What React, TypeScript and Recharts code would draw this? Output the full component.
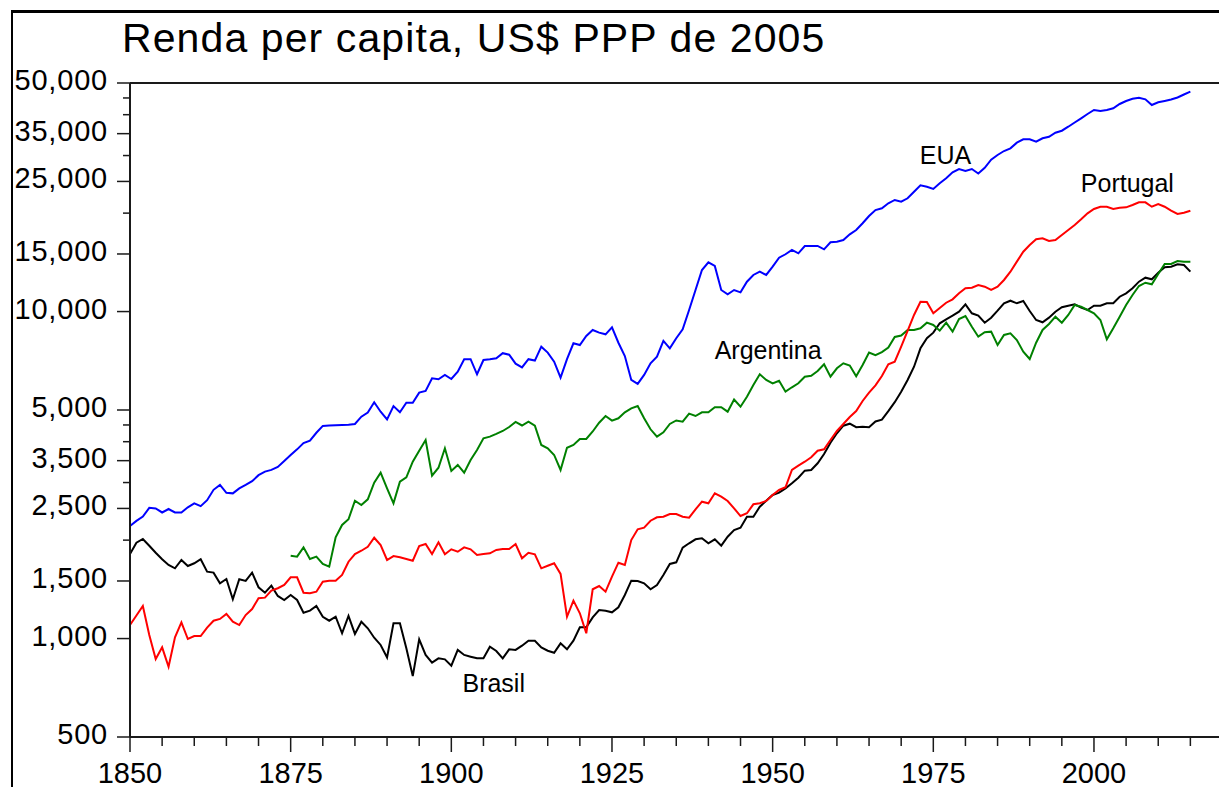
import React from 'react';
import { LineChart, Line, XAxis, YAxis, ReferenceLine, ReferenceDot } from 'recharts';

const START_YEAR = 1850;
const ARGENTINA_START = 1875;

const usa = [
  2210, 2290, 2360, 2510, 2500, 2430, 2490, 2430, 2430, 2520,
  2590, 2540, 2650, 2850, 2950, 2790, 2780, 2880, 2950, 3030,
  3160, 3240, 3280, 3350, 3490, 3640, 3790, 3960, 4030, 4260,
  4470, 4480, 4490, 4500, 4510, 4530, 4770, 4910, 5280, 4940,
  4680, 5140, 4920, 5260, 5260, 5650, 5720, 6250, 6210, 6400,
  6220, 6550, 7150, 7150, 6430, 7110, 7150, 7200, 7460, 7380,
  6930, 6750, 7150, 7080, 7810, 7490, 7030, 6280, 7150, 8000,
  7900, 8420, 8780, 8620, 8520, 8950, 8030, 7310, 6180, 6010,
  6400, 6950, 7280, 8130, 7720, 8290, 8830, 10110, 11640, 13400,
  14150, 13790, 11640, 11290, 11640, 11450, 12340, 12940, 13240, 12940,
  13720, 14610, 14970, 15430, 15070, 15870, 15870, 15870, 15500, 16290,
  16350, 16550, 17230, 17760, 18620, 19600, 20440, 20690, 21430, 21940,
  21670, 22200, 23260, 24330, 24090, 23710, 24680, 25560, 26660, 27290,
  26910, 27290, 26440, 27520, 29130, 30110, 30970, 31570, 32840, 33630,
  33630, 33070, 33870, 34250, 35230, 35730, 36750, 37860, 38990, 40190,
  41340, 41050, 41340, 41840, 43130, 44050, 44770, 45080, 44580, 42820,
  43640, 44050, 44510, 45150, 46110, 47030,
];

const portugal = [
  1100, 1176, 1258, 1025, 866, 940, 820, 1009, 1121, 997,
  1018, 1018, 1080, 1134, 1148, 1189, 1126, 1100, 1180, 1231,
  1328, 1334, 1401, 1425, 1458, 1539, 1539, 1381, 1375, 1391,
  1492, 1503, 1503, 1565, 1718, 1814, 1856, 1909, 2034, 1932,
  1739, 1788, 1772, 1751, 1730, 1919, 1946, 1814, 1970, 1810,
  1875, 1843, 1901, 1875, 1802, 1814, 1823, 1866, 1879, 1879,
  1946, 1760, 1830, 1810, 1640, 1670, 1699, 1576, 1166, 1306,
  1195, 1038, 1415, 1448, 1391, 1546, 1706, 1679, 2001, 2159,
  2183, 2293, 2349, 2358, 2404, 2404, 2358, 2342, 2485, 2621,
  2592, 2782, 2716, 2635, 2502, 2370, 2416, 2574, 2592, 2635,
  2749, 2847, 2902, 3277, 3378, 3474, 3584, 3754, 3792, 4049,
  4313, 4531, 4760, 4965, 5327, 5648, 5950, 6352, 6898, 7025,
  7809, 8722, 9761, 10719, 10696, 9878, 10254, 10643, 10901, 11373,
  11780, 11830, 12057, 11914, 11640, 11914, 12491, 13243, 14211, 15243,
  15978, 16632, 16750, 16435, 16551, 17144, 17759, 18395, 19148, 19974,
  20589, 20925, 20925, 20589, 20777, 20835, 21175, 21582, 21582, 20925,
  21325, 20925, 20344, 19877, 20059, 20344,
];

const brasil = [
  1814, 1964, 2016, 1923, 1830, 1748, 1679, 1640, 1739, 1667,
  1699, 1748, 1602, 1591, 1476, 1521, 1319, 1518, 1500, 1591,
  1435, 1381, 1451, 1350, 1312, 1359, 1312, 1200, 1217, 1258,
  1166, 1134, 1166, 1038, 1172, 1033, 1126, 1075, 1006, 956,
  876, 1113, 1113, 934, 768, 995, 891, 844, 870, 864,
  826, 923, 891, 880, 870, 870, 944, 916, 870, 927,
  923, 951, 985, 985, 940, 918, 905, 967, 927, 985,
  1082, 1082, 1161, 1223, 1217, 1203, 1246, 1359, 1503, 1500,
  1476, 1415, 1458, 1565, 1691, 1711, 1896, 1956, 2012, 2026,
  1956, 2012, 1923, 2049, 2148, 2183, 2358, 2358, 2531, 2640,
  2749, 2793, 2880, 2985, 3104, 3261, 3277, 3435, 3669, 3972,
  4244, 4477, 4541, 4430, 4446, 4430, 4611, 4670, 4958, 5283,
  5688, 6177, 6781, 7720, 8285, 8618, 9208, 9471, 9714, 9990,
  10525, 9878, 9714, 9247, 9578, 10061, 10599, 10795, 10599, 10772,
  10040, 9424, 9273, 9578, 9990, 10305, 10421, 10525, 10276, 10111,
  10421, 10421, 10599, 10599, 11104, 11373, 11780, 12343, 12694, 12552,
  13150, 13659, 13719, 13951, 13883, 13243,
];

const argentina = [
  1792, 1780, 1901, 1751, 1780,
  1691, 1659, 2040, 2225, 2316, 2640, 2561, 2666, 2997, 3215,
  2880, 2592, 3018, 3113, 3474, 3754, 4049, 3148, 3330, 3818,
  3254, 3395, 3215, 3516, 3773, 4098, 4144, 4224, 4313, 4436,
  4595, 4483, 4605, 4477, 3908, 3818, 3643, 3277, 3834, 3908,
  4078, 4078, 4298, 4572, 4793, 4638, 4717, 4920, 5059, 5143,
  4717, 4365, 4144, 4273, 4531, 4644, 4605, 4872, 4793, 4920,
  4920, 5096, 5096, 4941, 5384, 5118, 5491, 5962, 6429, 6177,
  6034, 6145, 5688, 5867, 6034, 6321, 6366, 6580, 6898, 6321,
  6706, 6947, 6840, 6343, 6864, 7497, 7351, 7513, 7765, 8361,
  8450, 8784, 8784, 8889, 9247, 9098, 8741, 9247, 8679, 9491,
  9692, 8990, 8379, 8643, 8679, 7903, 8480, 8582, 8186, 7540,
  7160, 8031, 8784, 9163, 9645, 9247, 9761, 10473, 10349, 10111,
  9878, 9424, 8226, 8889, 9645, 10473, 11238, 11972, 12253, 12116,
  13030, 13980, 13980, 14279, 14211, 14211,
];

const xTicks = [
  1850, 1855, 1860, 1865, 1870, 1875, 1880, 1885, 1890, 1895, 1900, 1905,
  1910, 1915, 1920, 1925, 1930, 1935, 1940, 1945, 1950, 1955, 1960, 1965,
  1970, 1975, 1980, 1985, 1990, 1995, 2000, 2005, 2010, 2015,
];
const xMajor = [1850, 1875, 1900, 1925, 1950, 1975, 2000];

const yTicks = [
  500, 1000, 1500, 2000, 2500, 3000, 3500, 4000, 4500, 5000,
  10000, 15000, 20000, 25000, 30000, 35000, 40000, 45000, 50000,
];
const yMajor = [500, 1000, 1500, 2500, 3500, 5000, 10000, 15000, 25000, 35000, 50000];

const data = usa.map((v, i) => {
  const year = START_YEAR + i;
  const ai = year - ARGENTINA_START;
  return {
    year,
    usa: v,
    portugal: portugal[i],
    brasil: brasil[i],
    argentina: ai >= 0 ? argentina[ai] : null,
  };
});

const FONT = '"Liberation Sans", Arial, Helvetica, sans-serif';
const AXIS = '#1a1a1a';

const YTick = (props: any) => {
  const { x, y, payload } = props;
  const v = payload.value;
  const major = yMajor.includes(v);
  return (
    <g>
      <line x1={x - (major ? 13 : 7)} x2={x} y1={y} y2={y} stroke={AXIS} strokeWidth={1.5} />
      {major && (
        <text x={x - 22} y={y + 7} textAnchor="end" fontSize={29} fontFamily={FONT} fill="#000" letterSpacing={0.8}>
          {v.toLocaleString('en-US')}
        </text>
      )}
    </g>
  );
};

const XTick = (props: any) => {
  const { x, y, payload } = props;
  const v = payload.value;
  const major = xMajor.includes(v);
  return (
    <g>
      <line x1={x} x2={x} y1={y} y2={y + (major ? 15 : 9)} stroke={AXIS} strokeWidth={1.5} />
      {major && (
        <text x={x} y={y + 46} textAnchor="middle" fontSize={29} fontFamily={FONT} fill="#000">
          {String(v)}
        </text>
      )}
    </g>
  );
};

const labelStyle = (value: string) => ({
  value,
  position: 'center' as const,
  fontSize: 25,
  fontFamily: FONT,
  fill: '#000',
});

export default function App() {
  return (
    <div
      style={{
        position: 'fixed',
        left: 0,
        top: 0,
        width: 1219,
        height: 787,
        overflow: 'hidden',
        background: '#fff',
      }}
    >
      <div
        style={{
          position: 'absolute',
          left: 11,
          top: 10,
          width: 2000,
          height: 2000,
          borderLeft: '2px solid #000',
          borderTop: '3px solid #000',
        }}
      />
      <svg
        width={1219}
        height={80}
        style={{ position: 'absolute', left: 0, top: 0 }}
      >
        <text x={122} y={52} fontSize={41} fontFamily={FONT} fill="#000" letterSpacing={1.1}>
          Renda per capita, US$ PPP de 2005
        </text>
      </svg>
      <div style={{ position: 'absolute', left: 0, top: 0 }}>
        <LineChart
          width={1240}
          height={800}
          data={data}
          margin={{ top: 83, right: 17.5, bottom: 0, left: 0 }}
        >
          <XAxis
            dataKey="year"
            type="number"
            domain={[1850, 2020]}
            ticks={xTicks}
            interval={0}
            tickSize={0}
            tickMargin={0}
            tick={<XTick />}
            height={63}
            axisLine={{ stroke: AXIS, strokeWidth: 2 }}
            tickLine={false}
            allowDataOverflow
          />
          <YAxis
            type="number"
            scale="log"
            domain={[500, 50000]}
            ticks={yTicks}
            interval={0}
            tickSize={0}
            tickMargin={0}
            tick={<YTick />}
            width={130}
            axisLine={{ stroke: AXIS, strokeWidth: 2 }}
            tickLine={false}
            allowDataOverflow
          />
          <ReferenceLine y={50000} stroke={AXIS} strokeWidth={2} />
          <Line type="linear" dataKey="brasil" stroke="#000000" strokeWidth={2} dot={false} isAnimationActive={false} />
          <Line type="linear" dataKey="argentina" stroke="#008000" strokeWidth={2} dot={false} isAnimationActive={false} />
          <Line type="linear" dataKey="portugal" stroke="#ff0000" strokeWidth={2} dot={false} isAnimationActive={false} />
          <Line type="linear" dataKey="usa" stroke="#0000ff" strokeWidth={2} dot={false} isAnimationActive={false} />
          <ReferenceDot x={1976.9} y={30100} r={1} fill="none" stroke="none" label={labelStyle('EUA')} />
          <ReferenceDot x={2005.2} y={24700} r={1} fill="none" stroke="none" label={labelStyle('Portugal')} />
          <ReferenceDot x={1949.3} y={7610} r={1} fill="none" stroke="none" label={labelStyle('Argentina')} />
          <ReferenceDot x={1906.6} y={729} r={1} fill="none" stroke="none" label={labelStyle('Brasil')} />
        </LineChart>
      </div>
    </div>
  );
}
